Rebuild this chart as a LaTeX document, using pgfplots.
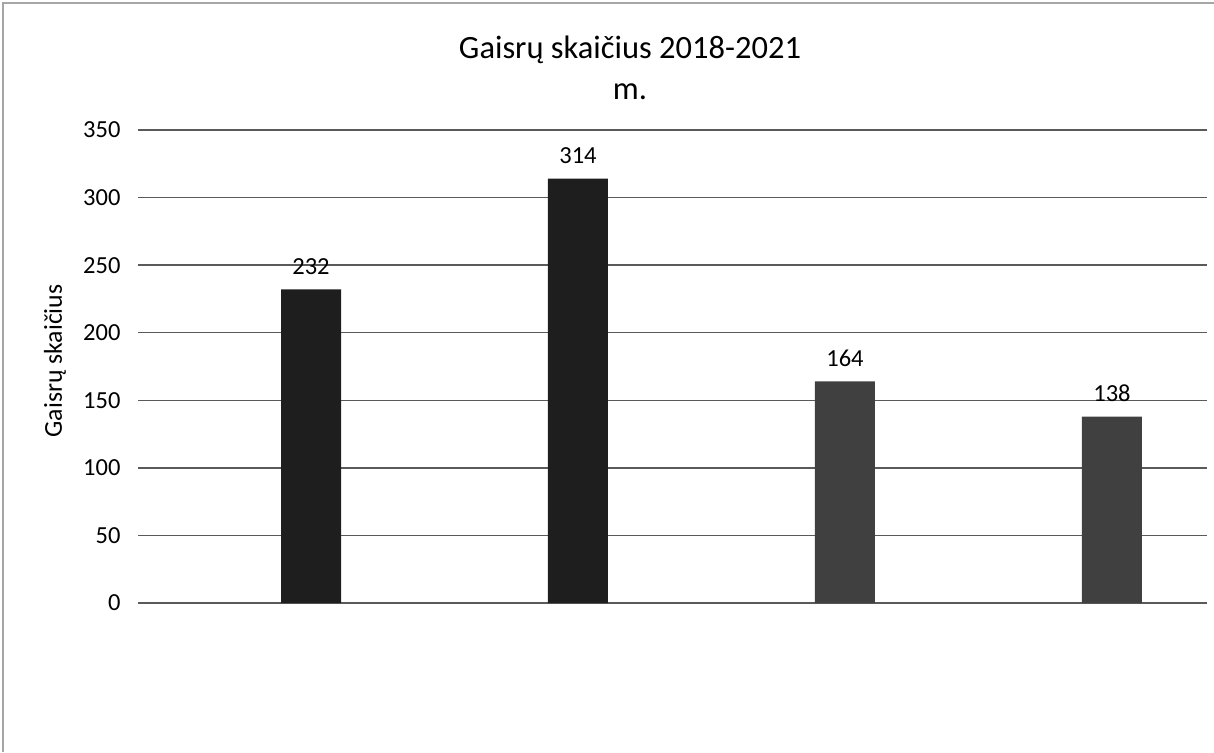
\documentclass[border=0pt]{standalone}
\usepackage{fontspec}
\setmainfont{Carlito}
\usepackage{pgfplots}
\pgfplotsset{compat=1.18}
\definecolor{bardark}{HTML}{1E1E1E}
\definecolor{barmid}{HTML}{404040}
\definecolor{gridc}{HTML}{5A5A5A}
\begin{document}
\begin{tikzpicture}
\path[use as bounding box] (0pt,0pt) rectangle (485.6pt,-300.8pt);
\draw[gray!70, line width=0.5pt] (1.2pt,-300.8pt) -- (1.2pt,-1.2pt) -- (485.6pt,-1.2pt);
\node[anchor=base, font=\fontsize{13}{15}\selectfont] at (252pt,-23.2pt) {Gaisrų skaičius 2018-2021};
\node[anchor=base, font=\fontsize{13}{15}\selectfont] at (252pt,-39.6pt) {m.};
\node[rotate=90, font=\fontsize{10.3}{12}\selectfont] at (22pt,-144.4pt) {Gaisrų skaičius};
\begin{axis}[
  at={(55.2pt,-241.2pt)}, anchor=south west,
  scale only axis, width=427.6pt, height=189.2pt,
  xmin=-0.648, xmax=3.356, ymin=0, ymax=350,
  ytick={0,50,100,150,200,250,300,350},
  xtick=\empty,
  axis line style={draw=none},
  major tick length=0pt,
  ymajorgrids,
  grid style={color=gridc, line width=0.6pt},
  ybar, bar width=24pt, bar shift=0pt,
  nodes near coords,
  every node near coord/.append style={font=\fontsize{9.8}{11}\selectfont, text=black, yshift=2.5pt},
  yticklabel style={font=\fontsize{9.8}{11}\selectfont, xshift=-3.5pt},
  /pgf/number format/assume math mode=true,
  clip=false
]
\addplot[draw=none, fill=bardark] coordinates {(0,232) (1,314)};
\addplot[draw=none, fill=barmid] coordinates {(2,164) (3,138)};
\end{axis}
\end{tikzpicture}
\end{document}
